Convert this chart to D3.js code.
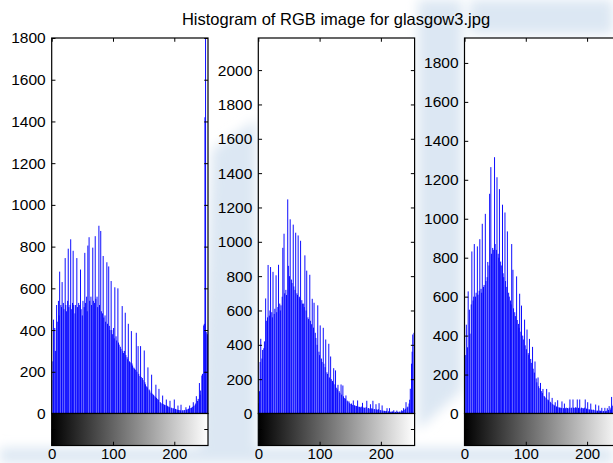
<!DOCTYPE html>
<html lang="en">
<head>
<meta charset="UTF-8">
<title>Histogram of RGB image for glasgow3.jpg</title>
<script src="https://cdn.jsdelivr.net/npm/d3@7"></script>
<style>
    body { margin: 0; background: #ffffff; overflow: hidden; }
    svg text { font-family: "Liberation Sans", Arial, sans-serif; fill: #000; }
</style>
</head>
<body>
<svg id="mainsvg" width="613" height="463"></svg>
<script>

// counts per grey level (0..255)
const redCounts = [
    160, 0, 250, 450, 0, 410, 300, 0, 520, 440, 0, 540, 470, 680, 0, 520,
    510, 630, 0, 530, 500, 0, 745, 520, 490, 0, 540, 790, 510, 0, 520, 835,
    500, 0, 530, 780, 520, 0, 480, 520, 0, 745, 510, 0, 530, 520, 0, 690,
    500, 0, 470, 540, 0, 510, 770, 530, 0, 560, 490, 805, 0, 845, 540, 0,
    560, 520, 0, 795, 540, 0, 530, 850, 550, 0, 560, 510, 0, 900, 520, 0,
    875, 490, 0, 480, 755, 460, 0, 470, 440, 0, 725, 430, 0, 705, 420, 400,
    0, 635, 400, 380, 0, 410, 360, 605, 0, 370, 350, 0, 600, 340, 330, 0,
    320, 310, 0, 515, 300, 290, 0, 300, 483, 280, 0, 270, 260, 430, 0, 250,
    245, 0, 395, 240, 230, 0, 220, 215, 0, 210, 387, 200, 0, 323, 190, 0,
    180, 323, 175, 0, 170, 160, 0, 302, 150, 140, 0, 130, 125, 221, 0, 115,
    110, 0, 100, 186, 95, 0, 90, 85, 0, 80, 138, 75, 0, 70, 65, 118,
    0, 55, 50, 0, 48, 86, 45, 0, 42, 40, 0, 67, 38, 35, 0, 33,
    30, 61, 0, 28, 26, 0, 25, 24, 67, 0, 22, 20, 0, 18, 38, 17,
    0, 16, 15, 42, 0, 14, 16, 0, 15, 17, 0, 30, 18, 20, 0, 22,
    24, 38, 0, 26, 28, 0, 32, 54, 36, 0, 42, 48, 83, 0, 60, 70,
    0, 146, 90, 110, 0, 182, 190, 0, 422, 430, 1420, 5200, 0, 390, 380, 370
];
const greenCounts = [
    60, 0, 130, 300, 435, 0, 320, 370, 0, 380, 420, 0, 670, 540, 0, 560,
    865, 0, 570, 600, 853, 0, 590, 560, 825, 0, 580, 610, 0, 805, 590, 0,
    620, 866, 0, 640, 600, 630, 0, 680, 965, 0, 1047, 700, 0, 720, 690, 0,
    1247, 860, 0, 800, 1131, 0, 780, 760, 0, 1100, 740, 0, 720, 1053, 0, 700,
    690, 1037, 0, 680, 670, 1006, 0, 660, 640, 0, 640, 620, 921, 0, 600, 832,
    0, 560, 550, 0, 808, 540, 0, 520, 668, 0, 500, 645, 0, 470, 440, 0,
    400, 630, 0, 360, 340, 513, 0, 320, 300, 0, 499, 290, 0, 270, 431, 0,
    240, 230, 0, 406, 210, 0, 332, 200, 0, 190, 180, 264, 0, 170, 251, 0,
    150, 140, 167, 0, 130, 120, 0, 169, 110, 0, 163, 100, 0, 90, 85, 105,
    0, 75, 70, 0, 70, 60, 0, 55, 58, 0, 50, 76, 0, 48, 45, 0,
    44, 42, 76, 0, 40, 38, 0, 36, 40, 0, 62, 35, 0, 34, 32, 0,
    38, 74, 0, 30, 32, 0, 28, 54, 0, 30, 28, 74, 0, 26, 25, 0,
    54, 24, 0, 22, 25, 60, 0, 20, 18, 0, 47, 17, 0, 16, 15, 0,
    14, 15, 31, 0, 12, 13, 31, 0, 10, 11, 0, 12, 10, 19, 0, 10,
    9, 0, 17, 10, 9, 0, 11, 10, 0, 12, 19, 14, 0, 31, 22, 0,
    28, 66, 0, 35, 40, 0, 58, 80, 144, 0, 290, 360, 460, 0, 470, 6000
];
const blueCounts = [
    225, 0, 300, 456, 0, 340, 627, 0, 533, 410, 0, 560, 832, 0, 580, 600,
    870, 0, 600, 620, 0, 858, 610, 0, 630, 895, 0, 640, 620, 974, 0, 650,
    660, 0, 1025, 680, 0, 700, 778, 0, 760, 1128, 0, 1265, 820, 0, 850, 840,
    0, 1316, 870, 0, 840, 1213, 0, 820, 800, 1152, 0, 780, 760, 0, 1072, 720,
    700, 0, 1032, 680, 0, 650, 935, 0, 620, 600, 0, 580, 560, 870, 0, 738,
    540, 0, 520, 500, 0, 704, 480, 0, 460, 440, 615, 0, 420, 554, 0, 400,
    380, 0, 482, 350, 0, 330, 431, 0, 310, 300, 383, 0, 280, 260, 0, 342,
    230, 0, 210, 267, 0, 180, 160, 0, 185, 140, 0, 130, 157, 0, 115, 105,
    126, 0, 90, 85, 0, 80, 126, 0, 72, 68, 109, 0, 60, 55, 0, 80,
    48, 0, 44, 40, 58, 0, 36, 34, 68, 0, 32, 30, 0, 30, 28, 62,
    0, 28, 26, 51, 0, 27, 30, 0, 28, 26, 0, 30, 72, 0, 28, 30,
    0, 72, 30, 0, 28, 32, 0, 30, 72, 0, 28, 30, 72, 0, 26, 30,
    0, 28, 26, 0, 30, 72, 0, 25, 24, 58, 0, 22, 20, 0, 51, 20,
    18, 0, 20, 18, 0, 16, 46, 0, 15, 14, 0, 41, 15, 0, 14, 13,
    29, 0, 12, 13, 0, 29, 12, 0, 14, 27, 0, 18, 38, 0, 20, 30,
    85, 40, 0, 50, 60, 0, 70, 80, 0, 100, 120, 0, 150, 180, 0, 1500
];

const yMaxes = [1800, 2187, 1928];
const yTickSets = [
    [0, 200, 400, 600, 800, 1000, 1200, 1400, 1600, 1800],
    [0, 200, 400, 600, 800, 1000, 1200, 1400, 1600, 1800, 2000],
    [0, 200, 400, 600, 800, 1000, 1200, 1400, 1600, 1800]
];
const xTicks = [0, 100, 200];
const titleText = 'Histogram of RGB image for glasgow3.jpg';

// layout
const svg = d3.select('#mainsvg');
const panelLefts = [51.7, 258.3, 464.5];
const panelWidth = 156.3;
const plotTop = 38;
const plotBottom = 413.5;
const barBottom = 445.5;
const tickLen = 3.75;
const fmt = d3.format('d');

const defs = svg.append('defs');
const grad = defs.append('linearGradient').attr('id', 'greyramp')
    .attr('x1', '0%').attr('x2', '100%').attr('y1', '0%').attr('y2', '0%');
grad.append('stop').attr('offset', '0%').attr('stop-color', '#000');
grad.append('stop').attr('offset', '100%').attr('stop-color', '#fff');

// faint watermark behind the figure (pale blue patches in the gutters)
defs.append('filter').attr('id', 'soft')
    .append('feGaussianBlur').attr('stdDeviation', 6);
const wm = svg.append('g').attr('filter', 'url(#soft)').attr('fill', '#dce7f3');
wm.append('path').attr('d', 'M212,150 L256,120 L256,463 L200,463 Z');
wm.append('path').attr('d', 'M418,0 L462,0 L462,390 L418,430 Z');
wm.append('path').attr('d', 'M470,0 L613,0 L613,34 L470,34 Z');
wm.append('path').attr('d', 'M0,448 L613,448 L613,463 L0,463 Z');

const allCounts = [redCounts, greenCounts, blueCounts];

allCounts.forEach((counts, p) => {
    const left = panelLefts[p];
    const right = left + panelWidth;
    const x = d3.scaleLinear().domain([0, 255]).range([left, right]);
    const y = d3.scaleLinear().domain([0, yMaxes[p]]).range([plotBottom, plotTop]);

    const g = svg.append('g').attr('class', 'panel');

    defs.append('clipPath').attr('id', `clip${p}`)
        .append('rect')
        .attr('x', left).attr('y', plotTop)
        .attr('width', panelWidth).attr('height', plotBottom - plotTop);

    g.append('rect')
        .attr('x', left).attr('y', plotTop)
        .attr('width', panelWidth).attr('height', plotBottom - plotTop)
        .attr('fill', '#fff');

    // stems
    g.append('g').attr('clip-path', `url(#clip${p})`)
        .selectAll('line')
        .data(counts)
        .join('line')
        .attr('x1', (d, i) => x(i))
        .attr('x2', (d, i) => x(i))
        .attr('y1', y(0))
        .attr('y2', d => y(d))
        .attr('stroke', '#0000ff')
        .attr('stroke-width', 0.95);

    // y axes, ticks pointing inward
    const yl = g.append('g')
        .attr('transform', `translate(${left},0)`)
        .call(d3.axisLeft(y).tickValues(yTickSets[p]).tickFormat(fmt)
            .tickSizeInner(-tickLen).tickSizeOuter(0).tickPadding(6));
    yl.select('.domain').remove();
    yl.selectAll('text').attr('font-size', 15.5);

    const yr = g.append('g')
        .attr('transform', `translate(${right},0)`)
        .call(d3.axisRight(y).tickValues(yTickSets[p]).tickSizeInner(-tickLen).tickSizeOuter(0).tickFormat(''));
    yr.select('.domain').remove();

    const xt = g.append('g')
        .attr('transform', `translate(0,${plotTop})`)
        .call(d3.axisTop(x).tickValues(xTicks).tickSizeInner(-tickLen).tickSizeOuter(0).tickFormat(''));
    xt.select('.domain').remove();

    g.append('rect')
        .attr('x', left).attr('y', plotTop)
        .attr('width', panelWidth).attr('height', plotBottom - plotTop)
        .attr('fill', 'none').attr('stroke', '#000').attr('stroke-width', 1.2);

    // grey ramp colour bar
    g.append('rect')
        .attr('x', left).attr('y', plotBottom)
        .attr('width', panelWidth).attr('height', barBottom - plotBottom)
        .attr('fill', 'url(#greyramp)')
        .attr('stroke', '#000').attr('stroke-width', 1.2);

    const xb = g.append('g')
        .attr('transform', `translate(0,${barBottom})`)
        .call(d3.axisBottom(x).tickValues(xTicks).tickFormat(fmt)
            .tickSizeInner(-tickLen).tickSizeOuter(0).tickPadding(3));
    xb.select('.domain').remove();
    xb.selectAll('text').attr('font-size', 15);

    const midBar = (plotBottom + barBottom) / 2;
    g.append('line')
        .attr('x1', left).attr('x2', left + tickLen)
        .attr('y1', midBar).attr('y2', midBar).attr('stroke', '#000');
    g.append('line')
        .attr('x1', right).attr('x2', right - tickLen)
        .attr('y1', midBar).attr('y2', midBar).attr('stroke', '#000');
});

svg.selectAll('.tick text').attr('fill', '#000').attr('font-family', null);

// title over the middle plot
svg.append('text')
    .attr('x', 336)
    .attr('y', 25)
    .attr('text-anchor', 'middle')
    .attr('font-size', 16.5)
    .text(titleText);

</script>
</body>
</html>
